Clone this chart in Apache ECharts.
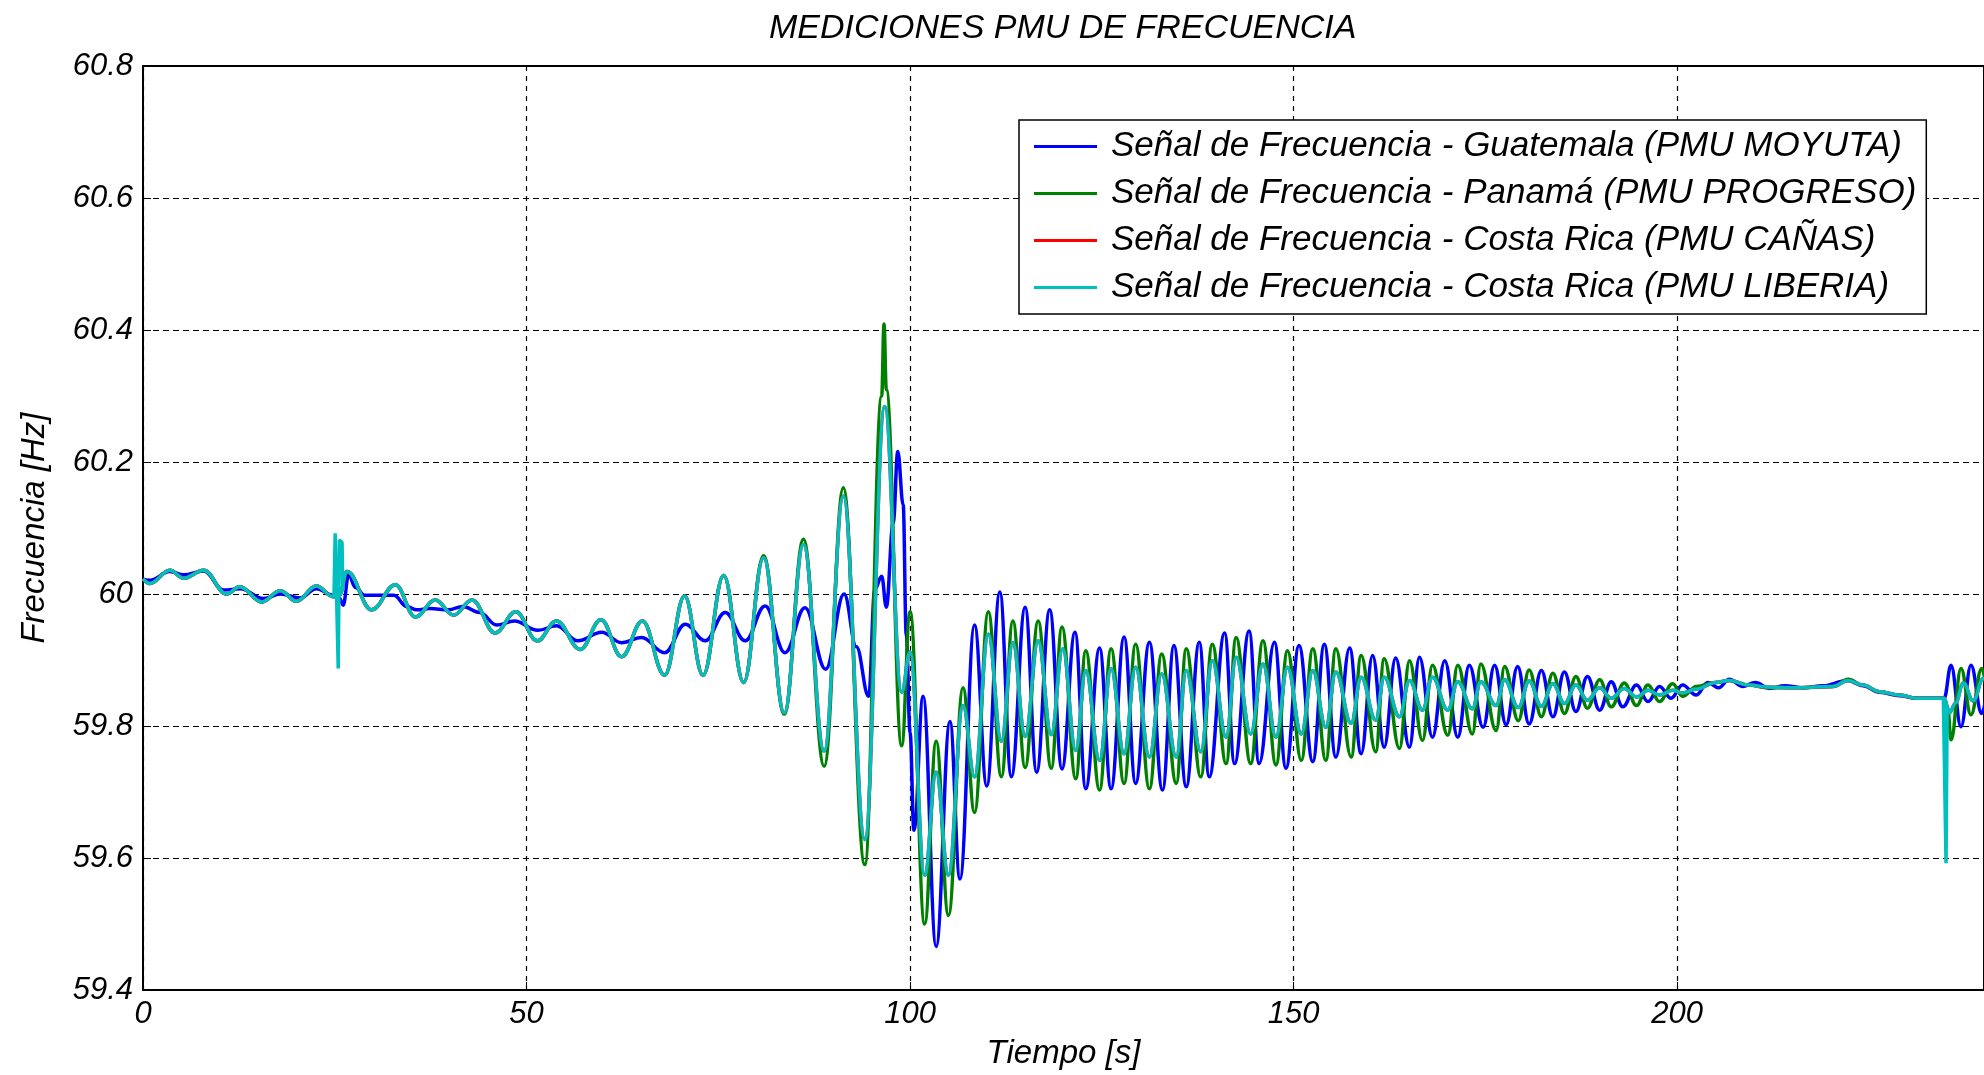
<!DOCTYPE html>
<html>
<head>
<meta charset="utf-8">
<title>Mediciones PMU de frecuencia</title>
<script src="https://cdn.jsdelivr.net/npm/echarts@6/dist/echarts.min.js"></script>
<style>
  html, body { margin: 0; padding: 0; background: #fff; }
  #chart { width: 1984px; height: 1075px; }
</style>
</head>
<body>
<div id="chart"></div>
<script>
// serie names (legend)
var names = [
  'Señal de Frecuencia - Guatemala (PMU MOYUTA)',
  'Señal de Frecuencia - Panamá (PMU PROGRESO)',
  'Señal de Frecuencia - Costa Rica (PMU CAÑAS)',
  'Señal de Frecuencia - Costa Rica (PMU LIBERIA)'
];

var xTicks = [0, 50, 100, 150, 200];
var yTicks = [59.4, 59.6, 59.8, 60, 60.2, 60.4, 60.6, 60.8];

// [tiempo s, frecuencia Hz]
var moyuta = [
  [0, 60.022], [0.9, 60.021], [3.5, 60.034], [5.3, 60.029], [7.9, 60.035], [10.5, 60.006],
  [12.7, 60.008], [15.7, 59.993], [17.9, 60.0], [20.5, 59.994], [22.6, 60.008], [24.8, 59.998],
  [25.6, 59.994], [26.1, 59.983], [26.8, 60.029], [27.7, 60.01], [28.9, 59.998], [32.7, 59.998],
  [34.4, 59.981], [35.7, 59.976], [37.4, 59.978], [39.8, 59.976], [41.7, 59.981], [43.9, 59.972],
  [46.1, 59.953], [48.4, 59.959], [51.5, 59.945], [53.9, 59.952], [56.7, 59.929], [59.8, 59.942],
  [62.4, 59.926], [65.0, 59.934], [68.0, 59.911], [70.7, 59.954], [73.3, 59.929], [75.9, 59.972],
  [78.5, 59.929], [81.1, 59.982], [83.7, 59.911], [86.3, 59.979], [89.0, 59.886], [91.4, 60.0],
  [93.0, 59.92], [94.6, 59.845], [95.4, 60.007], [96.3, 60.027], [96.9, 59.98], [97.8, 60.108],
  [98.4, 60.216], [99.1, 60.135], [99.5, 59.939], [100.0, 59.79], [100.5, 59.642], [101.7, 59.845],
  [103.4, 59.466], [105.2, 59.807], [106.5, 59.568], [108.4, 59.953], [110.0, 59.709], [111.7, 60.003],
  [113.2, 59.723], [115.0, 59.98], [116.5, 59.73], [118.2, 59.976], [119.8, 59.735], [121.5, 59.942],
  [122.9, 59.705], [124.7, 59.918], [126.2, 59.705], [127.9, 59.935], [129.4, 59.713], [131.2, 59.927],
  [132.9, 59.703], [134.4, 59.922], [136.0, 59.708], [137.7, 59.927], [139.0, 59.723], [141.0, 59.941],
  [142.3, 59.743], [144.2, 59.944], [145.5, 59.743], [147.5, 59.927], [149.0, 59.736], [150.7, 59.922],
  [152.5, 59.746], [154.0, 59.924], [155.5, 59.753], [157.3, 59.918], [158.8, 59.758], [160.3, 59.907],
  [161.8, 59.768], [163.3, 59.903], [165.1, 59.768], [166.4, 59.904], [168.1, 59.783], [169.7, 59.899],
  [171.4, 59.783], [172.9, 59.892], [174.7, 59.798], [176.2, 59.892], [177.7, 59.802], [179.2, 59.890],
  [180.7, 59.803], [182.3, 59.884], [183.8, 59.814], [185.3, 59.882], [186.8, 59.822], [188.3, 59.875],
  [189.9, 59.824], [191.4, 59.867], [192.9, 59.829], [194.7, 59.862], [196.2, 59.837], [197.7, 59.860],
  [199.2, 59.842], [200.7, 59.862], [202.5, 59.847], [204.0, 59.866], [205.4, 59.858], [206.8, 59.871],
  [208.5, 59.860], [210.2, 59.866], [212.0, 59.857], [214.0, 59.861], [216.5, 59.858], [219.0, 59.861],
  [222.2, 59.869], [224.2, 59.861], [226.4, 59.851], [229.0, 59.846], [231.2, 59.842], [234.8, 59.842],
  [235.7, 59.892], [237.0, 59.799], [238.3, 59.892], [239.7, 59.819], [240.5, 59.86]
];

var progreso = [
  [0, 60.023], [0.9, 60.016], [3.5, 60.036], [5.3, 60.024], [7.9, 60.036], [10.9, 60.0],
  [12.6, 60.011], [15.5, 59.988], [17.9, 60.005], [20.0, 59.989], [22.6, 60.012], [24.8, 59.996],
  [25.6, 59.998], [26.6, 60.034], [29.8, 59.976], [32.9, 60.014], [35.5, 59.965], [38.1, 59.991],
  [40.5, 59.968], [42.9, 59.991], [45.9, 59.941], [48.6, 59.973], [51.4, 59.929], [53.9, 59.959],
  [57.0, 59.916], [59.7, 59.961], [62.4, 59.905], [65.1, 59.959], [68.0, 59.877], [70.6, 59.997],
  [73.0, 59.877], [75.7, 60.028], [78.3, 59.866], [80.9, 60.058], [83.6, 59.818], [86.1, 60.083],
  [88.8, 59.739], [91.3, 60.161], [94.1, 59.59], [96.3, 60.30], [96.6, 60.409], [96.9, 60.31],
  [98.9, 59.77], [100.0, 59.973], [101.9, 59.5], [103.4, 59.777], [105.0, 59.513], [106.9, 59.858],
  [108.4, 59.669], [110.2, 59.973], [111.9, 59.723], [113.4, 59.959], [115.0, 59.737], [116.7, 59.959],
  [118.4, 59.736], [119.8, 59.950], [121.6, 59.720], [122.9, 59.914], [124.7, 59.703], [126.2, 59.917],
  [127.9, 59.713], [129.4, 59.924], [131.2, 59.705], [132.8, 59.909], [134.7, 59.713], [136.0, 59.917],
  [137.9, 59.723], [139.4, 59.924], [141.2, 59.743], [142.5, 59.934], [144.4, 59.743], [146.0, 59.929],
  [147.7, 59.741], [149.2, 59.914], [151.0, 59.748], [152.5, 59.917], [154.2, 59.748], [155.5, 59.917],
  [157.5, 59.753], [158.8, 59.907], [160.7, 59.761], [161.8, 59.902], [163.8, 59.766], [165.1, 59.899],
  [166.8, 59.778], [168.1, 59.892], [170.1, 59.786], [171.4, 59.892], [173.3, 59.788], [174.4, 59.894],
  [176.4, 59.793], [177.5, 59.890], [179.3, 59.808], [180.7, 59.885], [182.3, 59.814], [183.8, 59.880],
  [185.3, 59.819], [186.8, 59.875], [188.3, 59.827], [189.9, 59.870], [191.4, 59.829], [193.1, 59.865],
  [194.7, 59.831], [196.2, 59.862], [197.7, 59.837], [199.4, 59.864], [200.7, 59.845], [202.5, 59.860],
  [205.0, 59.866], [206.8, 59.869], [209.4, 59.862], [211.6, 59.858], [216.0, 59.858], [220.3, 59.860],
  [222.3, 59.871], [224.2, 59.862], [226.4, 59.852], [229.0, 59.847], [231.2, 59.842], [234.8, 59.842],
  [235.3, 59.824], [235.7, 59.779], [237.0, 59.887], [238.3, 59.817], [239.7, 59.887], [240.5, 59.84]
];

// Costa Rica: CAÑAS and LIBERIA lie on top of each other
var costaRica = [
  [0, 60.023], [0.9, 60.016], [3.5, 60.036], [5.3, 60.024], [7.9, 60.036], [10.9, 60.0],
  [12.6, 60.011], [15.5, 59.988], [17.9, 60.005], [20.0, 59.989], [22.6, 60.012], [24.8, 59.996],
  [25.6, 59.998], [26.6, 60.034], [29.8, 59.976], [32.9, 60.014], [35.5, 59.965], [38.1, 59.991],
  [40.5, 59.968], [42.9, 59.991], [45.9, 59.941], [48.6, 59.973], [51.4, 59.929], [53.9, 59.959],
  [57.0, 59.916], [59.7, 59.961], [62.4, 59.905], [65.1, 59.959], [68.0, 59.877], [70.6, 59.997],
  [73.0, 59.877], [75.7, 60.028], [78.3, 59.866], [80.9, 60.055], [83.6, 59.82], [86.1, 60.075],
  [88.8, 59.762], [91.3, 60.148], [94.1, 59.628], [96.7, 60.284], [98.9, 59.851], [100.0, 59.912],
  [101.9, 59.574], [103.4, 59.73], [105.0, 59.574], [106.9, 59.831], [108.4, 59.723], [110.2, 59.939],
  [111.9, 59.777], [113.4, 59.926], [115.0, 59.784], [116.7, 59.929], [118.4, 59.787], [119.9, 59.917],
  [121.6, 59.763], [122.9, 59.884], [124.7, 59.748], [126.2, 59.887], [127.9, 59.758], [129.4, 59.889],
  [131.2, 59.753], [132.8, 59.879], [134.7, 59.753], [136.0, 59.884], [137.9, 59.761], [139.4, 59.899],
  [141.2, 59.783], [142.5, 59.904], [144.4, 59.788], [146.0, 59.894], [147.7, 59.783], [149.2, 59.889],
  [151.0, 59.788], [152.5, 59.884], [154.2, 59.798], [155.5, 59.882], [157.5, 59.804], [158.8, 59.874],
  [160.7, 59.809], [161.8, 59.874], [163.8, 59.814], [165.1, 59.869], [166.8, 59.824], [168.1, 59.874],
  [170.1, 59.824], [171.4, 59.867], [173.3, 59.826], [174.4, 59.867], [176.4, 59.831], [177.5, 59.870],
  [179.3, 59.828], [180.7, 59.868], [182.3, 59.830], [183.8, 59.864], [185.3, 59.834], [186.8, 59.862],
  [188.3, 59.839], [189.9, 59.858], [191.4, 59.842], [193.1, 59.857], [194.7, 59.844], [196.2, 59.854],
  [197.7, 59.847], [199.4, 59.854], [200.7, 59.850], [202.5, 59.856], [205.0, 59.866], [206.8, 59.869],
  [209.4, 59.862], [211.6, 59.859], [216.0, 59.858], [220.3, 59.860], [222.3, 59.869], [224.2, 59.862],
  [226.4, 59.852], [229.0, 59.847], [231.2, 59.842], [234.8, 59.842], [235.5, 59.82], [236.3, 59.835],
  [237.3, 59.865], [238.6, 59.838], [239.9, 59.872], [240.5, 59.86]
];

// glitches only seen on the LIBERIA PMU
var liberiaSpike1 = [
  [24.9, 59.997], [25.05, 60.092], [25.25, 60.09], [25.45, 59.887], [25.6, 60.082], [25.95, 60.078], [26.05, 60.005]
];
var liberiaSpike2 = [
  [234.7, 59.842], [234.95, 59.842], [235.05, 59.592], [235.2, 59.83], [235.5, 59.82]
];

var colors = ['#0000ff', '#008000', '#ff0000', '#00bfbf'];
var fontFam = '"Liberation Sans", Arial, Helvetica, sans-serif';

function lineSerie (name, data, color, smooth) {
  return {
    name: name,
    type: 'line',
    data: data,
    symbol: 'none',
    smooth: smooth,
    smoothMonotone: 'x',
    lineStyle: { color: color, width: 3.5 },
    itemStyle: { color: color }
  };
}

function initChart () {
  var option = {
    animation: false,
    backgroundColor: '#fff',
    color: colors,
    title: {
      text: 'MEDICIONES PMU DE FRECUENCIA',
      left: 764,
      top: 7,
      textStyle: { fontFamily: fontFam, fontStyle: 'italic', fontWeight: 'normal', fontSize: 34, color: '#000' }
    },
    grid: {
      left: 143, right: -2, top: 66, bottom: 84,
      show: true, borderColor: '#000', borderWidth: 2
    },
    legend: {
      data: names,
      orient: 'vertical',
      left: 1019,
      top: 120,
      padding: [9, 10, 9, 15],
      itemGap: 12,
      itemWidth: 63,
      itemHeight: 3,
      icon: 'rect',
      backgroundColor: '#fff',
      borderColor: '#000',
      borderWidth: 1.5,
      textStyle: { fontFamily: fontFam, fontStyle: 'italic', fontSize: 35, color: '#000', padding: [0, 0, 0, 9] }
    },
    xAxis: {
      type: 'value',
      min: xTicks[0],
      max: 240,
      interval: xTicks[1] - xTicks[0],
      name: 'Tiempo [s]',
      nameLocation: 'middle',
      nameGap: 47,
      nameTextStyle: { fontFamily: fontFam, fontStyle: 'italic', fontSize: 33, color: '#000' },
      axisLine: { lineStyle: { color: '#000', width: 2 } },
      axisTick: { inside: true, length: 8, lineStyle: { color: '#000' } },
      axisLabel: {
        showMaxLabel: false,
        margin: 9,
        fontFamily: fontFam, fontStyle: 'italic', fontSize: 31, color: '#000'
      },
      splitLine: { show: true, lineStyle: { color: '#000', width: 1.2, type: [5, 5] } }
    },
    yAxis: {
      type: 'value',
      min: yTicks[0],
      max: yTicks[yTicks.length - 1],
      interval: 0.2,
      name: 'Frecuencia [Hz]',
      nameLocation: 'middle',
      nameGap: 92,
      nameTextStyle: { fontFamily: fontFam, fontStyle: 'italic', fontSize: 33, color: '#000' },
      axisLine: { show: true, lineStyle: { color: '#000', width: 2 } },
      axisTick: { show: true, inside: true, length: 8, lineStyle: { color: '#000' } },
      axisLabel: {
        margin: 10,
        fontFamily: fontFam, fontStyle: 'italic', fontSize: 31, color: '#000',
        formatter: function (v) { return String(Math.round(v * 10) / 10); }
      },
      splitLine: { show: true, lineStyle: { color: '#000', width: 1.2, type: [6, 4] } }
    },
    series: [
      lineSerie(names[0], moyuta, colors[0], 0.4),
      lineSerie(names[1], progreso, colors[1], 0.4),
      lineSerie(names[2], costaRica, colors[2], 0.4),
      lineSerie(names[3], costaRica, colors[3], 0.4),
      lineSerie(names[3], liberiaSpike1, colors[3], false),
      lineSerie(names[3], liberiaSpike2, colors[3], false)
    ]
  };

  var myChart = echarts.init(document.getElementById('chart'));
  myChart.setOption(option);
}

initChart();
</script>
</body>
</html>
